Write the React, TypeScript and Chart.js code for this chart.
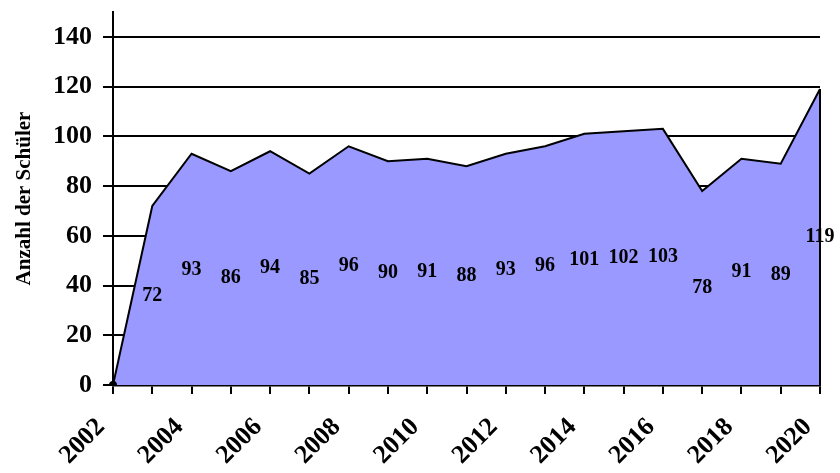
import React, { useEffect, useRef } from "react";
import { Chart, registerables } from "chart.js";

Chart.register(...registerables);

const years = ["2002","2003","2004","2005","2006","2007","2008","2009","2010","2011","2012","2013","2014","2015","2016","2017","2018","2019","2020"];
const students = [0, 72, 93, 86, 94, 85, 96, 90, 91, 88, 93, 96, 101, 102, 103, 78, 91, 89, 119];
const yTicks = [0, 20, 40, 60, 80, 100, 120, 140];
const yTitle = "Anzahl der Schüler";

const FONT = '"Liberation Serif", "Times New Roman", serif';

const labelsPlugin = {
  id: "valueLabels",
  afterDatasetsDraw(chart: any) {
    const { ctx, scales } = chart;
    const xs = scales.x, ys = scales.y;
    const last = students.length - 1;
    ctx.save();
    ctx.strokeStyle = "#000";
    ctx.lineWidth = 2;
    ctx.beginPath();
    ctx.moveTo(xs.getPixelForValue(last), ys.getPixelForValue(students[last]));
    ctx.lineTo(xs.getPixelForValue(last), ys.getPixelForValue(0));
    ctx.stroke();
    ctx.font = `bold 20px ${FONT}`;
    ctx.fillStyle = "#000";
    ctx.textAlign = "center";
    ctx.textBaseline = "middle";
    students.forEach((v, i) => {
      if (i === 0) return;
      ctx.fillText(String(v), xs.getPixelForValue(i), ys.getPixelForValue(v / 2));
    });
    ctx.restore();
  },
};

export default function App() {
  const ref = useRef<HTMLCanvasElement>(null);
  useEffect(() => {
    const chart = new Chart(ref.current!, {
      type: "line",
      data: {
        labels: years,
        datasets: [
          {
            data: students,
            borderColor: "#000",
            borderWidth: 2,
            backgroundColor: "#9999FF",
            fill: "origin",
            tension: 0,
            pointRadius: students.map((_, i) => (i === 0 ? 3 : 0)),
            pointBackgroundColor: "#000",
            pointBorderColor: "#000",
          },
        ],
      },
      options: {
        animation: false,
        responsive: true,
        maintainAspectRatio: false,
        layout: { padding: { top: 12, right: 20, left: 0, bottom: 0 } },
        plugins: { legend: { display: false }, tooltip: { enabled: false } },
        scales: {
          x: {
            offset: false,
            border: { color: "#000", width: 2.5 },
            grid: { drawOnChartArea: false, drawTicks: true, tickLength: 9, color: "#000", lineWidth: 2 },
            ticks: {
              autoSkip: false,
              minRotation: 45,
              maxRotation: 45,
              padding: 18,
              labelOffset: -12,
              color: "#000",
              font: { family: FONT, size: 26, weight: "bold" },
              callback: (_v: any, i: number) => (i % 2 === 0 ? years[i] : ""),
            },
            afterFit: (s: any) => {
              s.height = 88;
              s.paddingLeft = 0;
              s.paddingRight = 0;
            },
          },
          y: {
            min: 0,
            max: 150,
            border: { color: "#000", width: 2 },
            grid: { color: "#000", lineWidth: 2, tickLength: 10 },
            afterBuildTicks: (s: any) => { s.ticks = yTicks.map((v) => ({ value: v })); },
            ticks: {
              padding: 11,
              color: "#000",
              font: { family: FONT, size: 26, weight: "bold" },
            },
            title: {
              display: true,
              text: yTitle,
              color: "#000",
              padding: { top: 12, bottom: 0 },
              font: { family: FONT, size: 21, weight: "bold" },
            },
            afterFit: (s: any) => {
              s.width = 113;
              s.paddingTop = 0;
              s.paddingBottom = 0;
            },
          },
        },
      },
      plugins: [labelsPlugin],
    });
    return () => chart.destroy();
  }, []);
  return (
    <div style={{ position: "absolute", left: 0, top: 0, width: 840, height: 473 }}>
      <canvas ref={ref} />
    </div>
  );
}
